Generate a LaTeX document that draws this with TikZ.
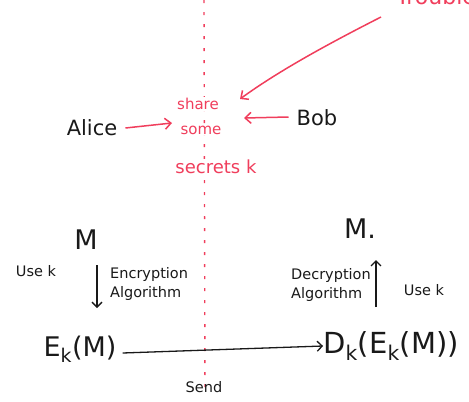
\documentclass[tikz,border=0pt]{standalone}
\usepackage{fontspec}
\setmainfont{DejaVu Sans}
\usetikzlibrary{arrows.meta}
\definecolor{pen}{RGB}{240,62,92}
\definecolor{ink}{RGB}{25,25,25}
\tikzset{
  redtxt/.style={text=pen, inner sep=0pt, font=\fontsize{15}{15}\selectfont},
  blk/.style={text=ink, inner sep=0pt, font=\fontsize{21}{21}\selectfont},
  big/.style={text=ink, inner sep=0pt, font=\fontsize{27}{27}\selectfont},
  small/.style={text=ink, inner sep=0pt, font=\fontsize{14.5}{15}\selectfont},
  redarrow/.style={draw=pen, line width=1.5pt, -{Straight Barb[length=6pt,width=11pt]}},
  blkarrow/.style={draw=ink, line width=1.3pt, -{Straight Barb[length=5pt,width=10pt]}},
  divider/.style={draw=pen, line width=1.4pt, dash pattern=on 3pt off 9pt}
}
\begin{document}
\begin{tikzpicture}[x=1pt,y=-1pt]
\useasboundingbox (0,0) rectangle (469,402);
% divider
\coordinate (dtop) at (204,0);
\coordinate (dbot) at (205,395);
\draw[divider] (dtop) -- (dbot);
% top-right text, cut off by the top edge as in the reference
\node[redtxt, font=\fontsize{22}{22}\selectfont, anchor=base west] (trouble) at (396,4) {Trouble};
% shared secret
\node[redtxt, fill=white, inner sep=1pt] (share) at (198,104) {share};
\node[redtxt, fill=white, inner sep=1pt] (some) at (201,130) {some};
\node[redtxt, fill=white, inner sep=1pt, font=\fontsize{18}{18}\selectfont] (secrets) at (216,167) {secrets k};
% Alice and Bob
\node[blk] (alice) at (92,128) {Alice};
\node[blk] (bob) at (317,118) {Bob};
\coordinate (aend) at (172,123);
\coordinate (bend) at (244,118);
\coordinate (tstart) at (381,17);
\coordinate (tend) at (240,99);
\draw[redarrow] (alice.east) ++(8,0) -- (aend);
\draw[redarrow] (bob.west) ++(-8,-1) -- (bend);
\draw[redarrow] (tstart) .. controls (330,43) and (280,70) .. (tend);
% left: encryption
\node[big] (m1) at (86,240) {M};
\node[small] (usek1) at (36,271) {Use k};
\node[small, align=left, anchor=west] (enc) at (110,284) {Encryption\\[4pt]Algorithm};
\node[big] (ekm) at (80,349) {E\textsubscript{k}(M)};
\draw[blkarrow] (97,265) -- (97,308);
% right: decryption
\node[big] (m2) at (360,229) {M.};
\node[small, align=left, anchor=east] (dec) at (371,285) {Decryption\\[4pt]Algorithm};
\node[small] (usek2) at (424,290) {Use k};
\node[big, font=\fontsize{29}{29}\selectfont] (dk) at (391,346) {D\textsubscript{k}(E\textsubscript{k}(M))};
\draw[blkarrow] (376,307) -- (376,260);
% send
\draw[blkarrow] (ekm.east) ++(6,4) -- (dk.west);
\node[small] (send) at (204,387) {Send};
\end{tikzpicture}
\end{document}
